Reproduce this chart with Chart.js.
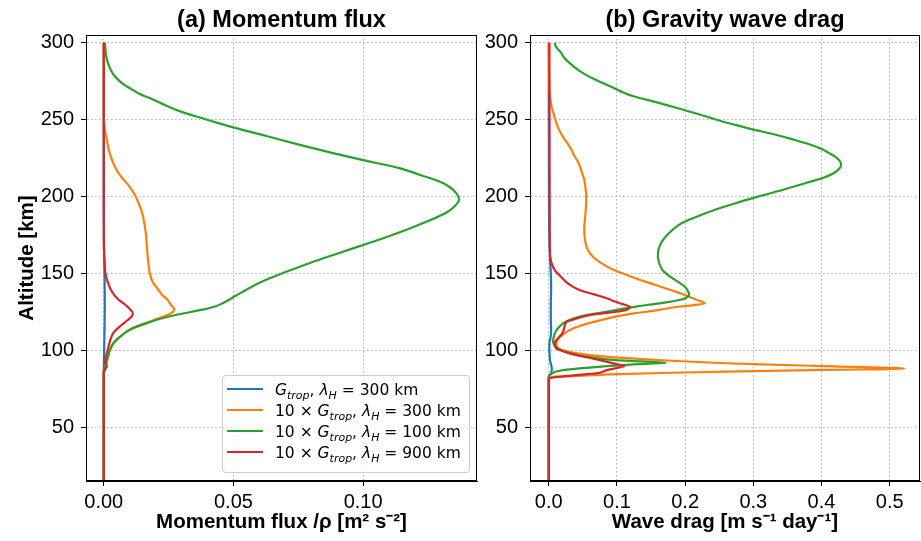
<!DOCTYPE html>
<html>
<head>
<meta charset="utf-8">
<script src="https://cdn.jsdelivr.net/npm/chart.js@4.4.1/dist/chart.umd.min.js"></script>
<style>
  body { margin: 0; background: #fff; }
  #wrap { position: relative; width: 921px; height: 541px; }
  #fluxChart { position: absolute; left: 0; top: 0; }
  #dragChart { position: absolute; left: 480px; top: 0; }
</style>
</head>
<body>
<div id="wrap">
  <canvas id="fluxChart" width="480" height="541"></canvas>
  <canvas id="dragChart" width="441" height="541"></canvas>
</div>
<script>
// legend text parts
const gainPrefix = ['', '10 \u00d7 ', '10 \u00d7 ', '10 \u00d7 '];
const lambdaKm = [300, 300, 100, 900];
const colors = ['#1f77b4', '#ff7f0e', '#2ca02c', '#d62728'];

const altTicks = [50, 100, 150, 200, 250, 300];
const fluxTicks = [0, 0.05, 0.10];
const dragTicks = [0, 0.1, 0.2, 0.3, 0.4, 0.5];

// (a) momentum flux, altitude km -> flux m2 s-2
const fluxAltBlue = [15, 84, 95, 105, 115, 130, 150, 165, 200, 300];
const fluxBlue = [0, 0, 0.0001, 0.0002, 0.0003, 0.0004, 0.0003, 0.0001, 0, 0];

const fluxAltOrange = [15, 85, 88, 91.8, 96, 100.4, 104, 106.9, 110, 113.4, 117.8, 120, 123.2, 126.4, 129.7, 133, 136, 139.5, 144, 148.2, 156.8, 167.7, 175, 182, 189.4, 195, 201, 208, 212, 216.7, 222, 227.5, 232, 238.4, 243, 247, 252, 300];
const fluxOrange = [0, 0, 0.0005, 0.001, 0.0017, 0.0024, 0.0035, 0.005, 0.0072, 0.0100, 0.0168, 0.0198, 0.0249, 0.0272, 0.0258, 0.0245, 0.0225, 0.021, 0.019, 0.018, 0.0172, 0.0166, 0.0163, 0.0157, 0.0148, 0.0136, 0.012, 0.0092, 0.0071, 0.0051, 0.0036, 0.0024, 0.0017, 0.001, 0.0005, 0.0002, 0, 0];

const fluxAltGreen = [15, 85, 88, 91.8, 96, 100.4, 104, 106.9, 110, 113.4, 117.8, 122.1, 126.4, 128.5, 130.8, 133, 135.1, 138, 141, 146, 151, 156.8, 162, 167.7, 173, 178.5, 184, 189.4, 194, 198, 202, 206, 210, 214, 218.4, 223.6, 228.2, 233.6, 239.3, 244.9, 248, 251.4, 255, 259, 263, 266.6, 270, 273.1, 276, 279.6, 285, 290.5, 295, 300];
const fluxGreen = [0, 0, 0.0005, 0.001, 0.0017, 0.0024, 0.0035, 0.005, 0.0072, 0.010, 0.0166, 0.0255, 0.038, 0.043, 0.046, 0.0485, 0.0505, 0.0535, 0.0567, 0.0628, 0.0703, 0.0795, 0.0885, 0.0987, 0.108, 0.117, 0.125, 0.132, 0.1355, 0.137, 0.136, 0.1335, 0.129, 0.122, 0.114, 0.1, 0.0884, 0.0756, 0.0627, 0.0499, 0.0435, 0.037, 0.030, 0.0242, 0.019, 0.0139, 0.0105, 0.0075, 0.0055, 0.0036, 0.002, 0.001, 0.0007, 0.0004];

const fluxAltRed = [15, 86, 87.5, 89.6, 92, 95, 98.3, 101, 104.8, 108, 111.3, 115.6, 120, 122, 124.3, 126.5, 128.7, 131, 133, 136, 139.5, 144, 148.2, 152, 156.8, 165, 180, 300];
const fluxRed = [0, 0, 0.0005, 0.0012, 0.0006, 0.0007, 0.0012, 0.0016, 0.0022, 0.0028, 0.0037, 0.0063, 0.0095, 0.0108, 0.0112, 0.0102, 0.0089, 0.0072, 0.0056, 0.004, 0.0027, 0.0016, 0.0009, 0.0005, 0.0003, 0.0001, 0, 0];

// (b) wave drag, altitude km -> drag m s-1 day-1
const dragAltBlue = [15, 83.5, 84.5, 86.3, 88, 89.6, 93, 96.1, 100, 104.8, 108, 113.4, 120, 130, 140, 150, 160, 175, 200, 300];
const dragBlue = [0, 0, 0.003, 0.004, 0.0045, 0.004, 0.002, 0.0015, 0.0008, 0.001, 0.0025, 0.0035, 0.003, 0.003, 0.0035, 0.003, 0.0018, 0.0008, 0.0003, 0];

const dragAltOrange = [15, 82.5, 83.2, 84.3, 85.4, 86.3, 87.2, 88.1, 89.5, 91, 93.2, 95, 96.9, 98.5, 101, 104, 106, 110, 114.3, 116, 117.8, 120, 122, 124, 126, 128.3, 129.5, 130.5, 132, 133, 135, 137.3, 140.5, 143.8, 148, 152.5, 157, 161.2, 165.5, 169.8, 178.5, 189.4, 200.2, 205, 211, 216.5, 221.9, 227, 232.8, 238, 243.6, 248, 252.3, 257, 261, 270, 300];
const dragOrange = [0, 0, 0.035, 0.09, 0.18, 0.28, 0.4, 0.522, 0.42, 0.3, 0.18, 0.11, 0.06, 0.035, 0.015, 0.011, 0.012, 0.02, 0.036, 0.047, 0.06, 0.08, 0.1, 0.125, 0.158, 0.19, 0.215, 0.229, 0.222, 0.216, 0.205, 0.191, 0.17, 0.147, 0.12, 0.094, 0.076, 0.064, 0.057, 0.054, 0.052, 0.054, 0.055, 0.054, 0.052, 0.048, 0.0436, 0.037, 0.030, 0.022, 0.015, 0.011, 0.008, 0.005, 0.003, 0.001, 0];

const dragAltGreen = [15, 82, 83.9, 85.3, 86.7, 88.2, 89.7, 91, 91.9, 92.8, 93.6, 95.2, 96.9, 99, 101.2, 103.5, 105.5, 108, 111, 114, 117.5, 119.8, 121.8, 124, 126.2, 128.6, 130.5, 132.7, 134.5, 136.2, 138.5, 141.6, 145, 148.2, 152, 156.8, 161, 165.5, 170, 174.2, 178.5, 182.9, 187, 191.5, 196, 200.2, 204.5, 208.9, 212, 215.4, 218, 220.8, 223.5, 226.2, 228.5, 230.6, 234, 237.1, 240.5, 243.6, 247, 250.1, 253.5, 256.6, 261, 265.3, 268.5, 271.8, 276, 280.5, 284, 287, 290, 293.5, 296, 297.8, 300];
const dragGreen = [0, 0, 0.0015, 0.006, 0.016, 0.045, 0.085, 0.13, 0.172, 0.135, 0.099, 0.065, 0.041, 0.024, 0.0137, 0.008, 0.0063, 0.007, 0.0088, 0.013, 0.021, 0.031, 0.045, 0.07, 0.099, 0.13, 0.162, 0.192, 0.203, 0.206, 0.204, 0.199, 0.188, 0.177, 0.167, 0.162, 0.160, 0.161, 0.165, 0.172, 0.182, 0.196, 0.218, 0.245, 0.277, 0.309, 0.345, 0.378, 0.402, 0.419, 0.426, 0.429, 0.426, 0.419, 0.41, 0.402, 0.382, 0.358, 0.33, 0.299, 0.27, 0.245, 0.22, 0.196, 0.16, 0.123, 0.105, 0.089, 0.068, 0.049, 0.038, 0.030, 0.023, 0.018, 0.013, 0.010, 0.009];

const dragAltRed = [15, 81.7, 82.8, 84, 85.4, 87.1, 88.5, 89.7, 91.5, 93.6, 96, 98, 99.8, 101.2, 104.5, 107, 110, 112, 115, 118.5, 120.5, 122.9, 124.3, 125.7, 128.3, 130, 131.5, 133.8, 136.5, 139.2, 142, 145, 148.2, 152, 156.8, 162, 170, 300];
const dragRed = [0, 0, 0.016, 0.045, 0.075, 0.085, 0.1, 0.111, 0.095, 0.075, 0.05, 0.031, 0.018, 0.011, 0.0088, 0.012, 0.018, 0.021, 0.023, 0.026, 0.04, 0.06, 0.085, 0.109, 0.119, 0.108, 0.098, 0.085, 0.065, 0.045, 0.033, 0.024, 0.017, 0.009, 0.004, 0.002, 0.0015, 0.001];

Chart.defaults.font.family = '"Liberation Sans", Arial, sans-serif';
Chart.defaults.color = '#000';

function toPoints(alts, vals) {
    return alts.map((a, i) => ({ x: vals[i], y: a }));
}

function makeDatasets(series) {
    return series.map((s, i) => ({
        label: gainPrefix[i] + 'G_trop, \u03bb_H = ' + lambdaKm[i] + ' km',
        data: toPoints(s[0], s[1]),
        borderColor: colors[i],
        backgroundColor: colors[i],
        borderWidth: 2.2,
        pointRadius: 0,
        fill: false,
        cubicInterpolationMode: 'monotone',
        order: 4 - i
    }));
}

// matplotlib style frame: top and right spines
const framePlugin = {
    id: 'frame',
    afterDraw(chart) {
        const { ctx, chartArea: a } = chart;
        ctx.save();
        ctx.strokeStyle = '#000';
        ctx.lineWidth = 1;
        ctx.strokeRect(a.left + 0.5, a.top + 0.5, a.right - a.left - 1, a.bottom - a.top - 1);
        ctx.restore();
    }
};

// legend with subscripts like mathtext
const mathLegend = {
    id: 'mathLegend',
    afterDraw(chart) {
        const ctx = chart.ctx;
        const fam = '"DejaVu Sans", sans-serif';
        const bx = 222, by = 375, bw = 247, bh = 97;
        ctx.save();
        ctx.beginPath();
        ctx.roundRect(bx + 0.5, by + 0.5, bw, bh, 3);
        ctx.fillStyle = 'rgba(255,255,255,0.8)';
        ctx.fill();
        ctx.strokeStyle = '#cccccc';
        ctx.lineWidth = 1;
        ctx.stroke();
        ctx.textBaseline = 'alphabetic';
        for (let i = 0; i < 4; i++) {
            const yc = 389 + i * 21;
            ctx.strokeStyle = colors[i];
            ctx.lineWidth = 2.2;
            ctx.beginPath();
            ctx.moveTo(227, yc);
            ctx.lineTo(263, yc);
            ctx.stroke();
            const parts = [
                [gainPrefix[i], 'normal', false],
                ['G', 'italic', false],
                ['trop', 'italic', true],
                [', ', 'normal', false],
                ['\u03bb', 'italic', false],
                ['H', 'italic', true],
                [' = ' + lambdaKm[i] + ' km', 'normal', false]
            ];
            let x = 275;
            const base = yc + 6;
            ctx.fillStyle = '#000';
            parts.forEach(([t, style, sub]) => {
                ctx.font = style + ' ' + (sub ? 11 : 15.5) + 'px ' + fam;
                ctx.fillText(t, x, sub ? base + 3.5 : base);
                x += ctx.measureText(t).width;
            });
        }
        ctx.restore();
    }
};

function makeOptions(cfg) {
    return {
        indexAxis: 'y',
        responsive: false,
        animation: false,
        layout: { padding: 0 },
        plugins: { legend: { display: false }, tooltip: { enabled: false } },
        scales: {
            x: {
                type: 'linear',
                position: 'bottom',
                min: cfg.xMin,
                max: cfg.xMax,
                afterBuildTicks: s => { s.ticks = cfg.xTicks.map(v => ({ value: v })); },
                afterFit: s => { s.height = 60; },
                ticks: {
                    callback: cfg.xFmt,
                    font: { size: 20 },
                    color: '#000',
                    padding: 4,
                    maxRotation: 0
                },
                grid: { color: '#b0b0b0', lineWidth: 1, tickColor: '#000', tickLength: 5 },
                border: { color: '#000', width: 1, dash: [1.5, 2.5] },
                title: {
                    display: true,
                    text: cfg.xTitle,
                    font: { size: 20.5, weight: 'bold' },
                    padding: { top: 0, bottom: 6 }
                }
            },
            y: {
                type: 'linear',
                position: 'left',
                min: 15,
                max: 305,
                afterBuildTicks: s => { s.ticks = altTicks.map(v => ({ value: v })); },
                afterFit: s => { s.width = cfg.yWidth; },
                ticks: { font: { size: 20 }, color: '#000', padding: 7 },
                grid: { color: '#b0b0b0', lineWidth: 1, tickColor: '#000', tickLength: 5 },
                border: { color: '#000', width: 1, dash: [1.5, 2.5] },
                title: {
                    display: cfg.yTitle,
                    text: 'Altitude [km]',
                    font: { size: 20.5, weight: 'bold' },
                    padding: { top: 15, bottom: 0 }
                }
            },
            xTop: {
                type: 'linear',
                position: 'top',
                afterFit: s => { s.height = 35; },
                ticks: { display: false },
                grid: { display: false },
                border: { display: false },
                title: {
                    display: true,
                    text: cfg.title,
                    font: { size: 23.5, weight: 'bold' },
                    padding: { top: 6, bottom: 0 }
                }
            },
            yRight: {
                type: 'linear',
                position: 'right',
                afterFit: s => { s.width = cfg.rightWidth; },
                ticks: { display: false },
                grid: { display: false },
                border: { display: false }
            }
        }
    };
}

new Chart(document.getElementById('fluxChart'), {
    type: 'line',
    data: {
        datasets: makeDatasets([
            [fluxAltBlue, fluxBlue],
            [fluxAltOrange, fluxOrange],
            [fluxAltGreen, fluxGreen],
            [fluxAltRed, fluxRed]
        ])
    },
    options: makeOptions({
        xMin: -0.00685, xMax: 0.1439, xTicks: fluxTicks,
        xFmt: v => v.toFixed(2),
        xTitle: 'Momentum flux /\u03c1 [m\u00b2 s\u207b\u00b2]',
        title: '(a) Momentum flux',
        yWidth: 86, rightWidth: 3, yTitle: true
    }),
    plugins: [framePlugin, mathLegend]
});

new Chart(document.getElementById('dragChart'), {
    type: 'line',
    data: {
        datasets: makeDatasets([
            [dragAltBlue, dragBlue],
            [dragAltOrange, dragOrange],
            [dragAltGreen, dragGreen],
            [dragAltRed, dragRed]
        ])
    },
    options: makeOptions({
        xMin: -0.0275, xMax: 0.5445, xTicks: dragTicks,
        xFmt: v => v.toFixed(1),
        xTitle: 'Wave drag [m s\u207b\u00b9 day\u207b\u00b9]',
        title: '(b) Gravity wave drag',
        yWidth: 50, rightWidth: 1, yTitle: false
    }),
    plugins: [framePlugin]
});
</script>
</body>
</html>
